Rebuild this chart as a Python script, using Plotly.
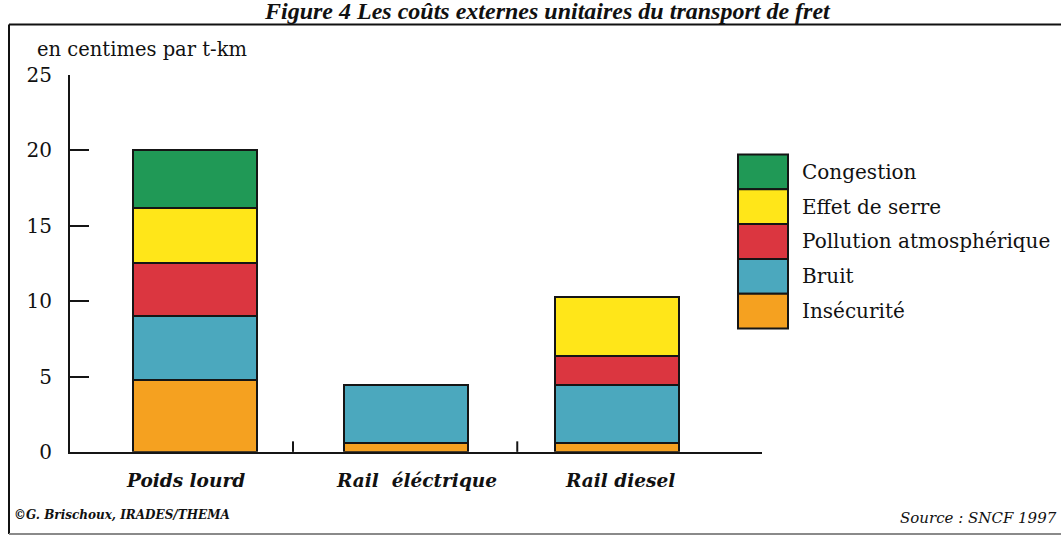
import plotly.graph_objects as go

# --- data -------------------------------------------------------------
categories = ["Poids lourd", "Rail\u00a0\u00a0éléctrique", "Rail diesel"]
series_names = ["Insécurité", "Bruit", "Pollution atmosphérique", "Effet de serre", "Congestion"]
insecurite = [4.8, 0.6, 0.6]
bruit = [4.2, 3.85, 3.85]
pollution = [3.55, None, 1.9]
effet_de_serre = [3.6, None, 3.95]
congestion = [3.85, None, None]
y_ticks = [0, 5, 10, 15, 20, 25]

series_values = [insecurite, bruit, pollution, effet_de_serre, congestion]
colors = ["#F5A120", "#4BA8BE", "#DB3640", "#FFE619", "#209956"]

W, H = 1061, 548


def px(x):
    """pixel column -> paper x"""
    return x / W


def py(y):
    """pixel row (from top) -> paper y"""
    return 1 - y / H


fig = go.Figure()
for name, vals, col in zip(series_names, series_values, colors):
    fig.add_trace(go.Bar(
        x=categories, y=vals, name=name, width=0.587,
        marker=dict(color=col, line=dict(color="#151515", width=2)),
    ))

shapes = []
annotations = []

# separators between categories on the x axis
for xv in (0.464, 1.526):
    shapes.append(dict(type="line", xref="x", yref="paper", x0=xv, x1=xv,
                       y0=py(460), y1=py(449), line=dict(color="#151515", width=2)))

# frame around the figure
shapes.append(dict(type="line", xref="paper", yref="paper", x0=px(9), x1=px(9),
                   y0=py(13), y1=py(546), line=dict(color="#111", width=2)))
shapes.append(dict(type="line", xref="paper", yref="paper", x0=px(9), x1=px(1065),
                   y0=py(13), y1=py(13), line=dict(color="#111", width=2)))
shapes.append(dict(type="line", xref="paper", yref="paper", x0=px(9), x1=px(1065),
                   y0=py(546), y1=py(546), line=dict(color="#8a8a8a", width=2)))

# legend swatches and labels (top to bottom: last series first)
row_h = 36.4
top = 149
for i, (name, col) in enumerate(zip(series_names[::-1], colors[::-1])):
    y0 = top + i * row_h
    shapes.append(dict(type="rect", xref="paper", yref="paper",
                       x0=px(738), x1=px(788), y0=py(y0), y1=py(y0 + row_h),
                       fillcolor=col, line=dict(color="#151515", width=2)))
    annotations.append(dict(text=name, xref="paper", yref="paper",
                            x=px(800), y=py(y0 + row_h / 2), xanchor="left", yanchor="middle",
                            showarrow=False,
                            font=dict(family="DejaVu Serif", size=20, color="#111")))

# category labels under the bars
for cat, dx in zip(categories, (-10, 10, 3)):
    annotations.append(dict(text=cat, xref="x", yref="paper", x=cat, y=py(490),
                            xshift=dx, xanchor="center", yanchor="middle", showarrow=False,
                            font=dict(family="DejaVu Serif", size=18.5, color="#111",
                                      weight="bold", style="italic")))

# unit label
annotations.append(dict(text="en centimes par t-km", xref="paper", yref="paper",
                        x=px(35), y=py(39), xanchor="left", yanchor="middle", showarrow=False,
                        font=dict(family="DejaVu Serif", size=19.5, color="#111")))

# title at the very top edge of the page
annotations.append(dict(text="Figure 4 Les coûts externes unitaires du transport de fret",
                        xref="paper", yref="paper", x=px(547), y=py(-1),
                        xanchor="center", yanchor="middle", showarrow=False,
                        font=dict(family="Liberation Serif", size=24, color="#111",
                                  weight="bold", style="italic")))

# footers
annotations.append(dict(text="©G. Brischoux, IRADES/THEMA", xref="paper", yref="paper",
                        x=px(12), y=py(526), xanchor="left", yanchor="middle", showarrow=False,
                        font=dict(family="DejaVu Serif", size=12, color="#111",
                                  weight="bold", style="italic")))
annotations.append(dict(text="Source : SNCF 1997", xref="paper", yref="paper",
                        x=px(1059), y=py(529), xanchor="right", yanchor="middle", showarrow=False,
                        font=dict(family="DejaVu Serif", size=15, color="#111", style="italic")))

fig.update_layout(
    width=W, height=H,
    margin=dict(l=0, r=0, t=0, b=0, pad=0),
    paper_bgcolor="white", plot_bgcolor="white",
    barmode="stack", showlegend=False,
    shapes=shapes, annotations=annotations,
    xaxis=dict(type="category", domain=[px(70), px(762)], range=[-0.592, 2.685],
               showline=True, linecolor="#151515", linewidth=2,
               showticklabels=False, ticks="", showgrid=False, zeroline=False),
    yaxis=dict(domain=[py(460), py(66)], range=[0, 25],
               tickmode="array", tickvals=y_ticks, ticktext=[str(v) for v in y_ticks],
               ticks="inside", ticklen=19, tickwidth=2, tickcolor="#151515",
               showline=True, linecolor="#151515", linewidth=2,
               showgrid=False, zeroline=False, ticklabelstandoff=12,
               tickfont=dict(family="DejaVu Serif", size=20, color="#111")),
)

fig.write_html("out.html")
